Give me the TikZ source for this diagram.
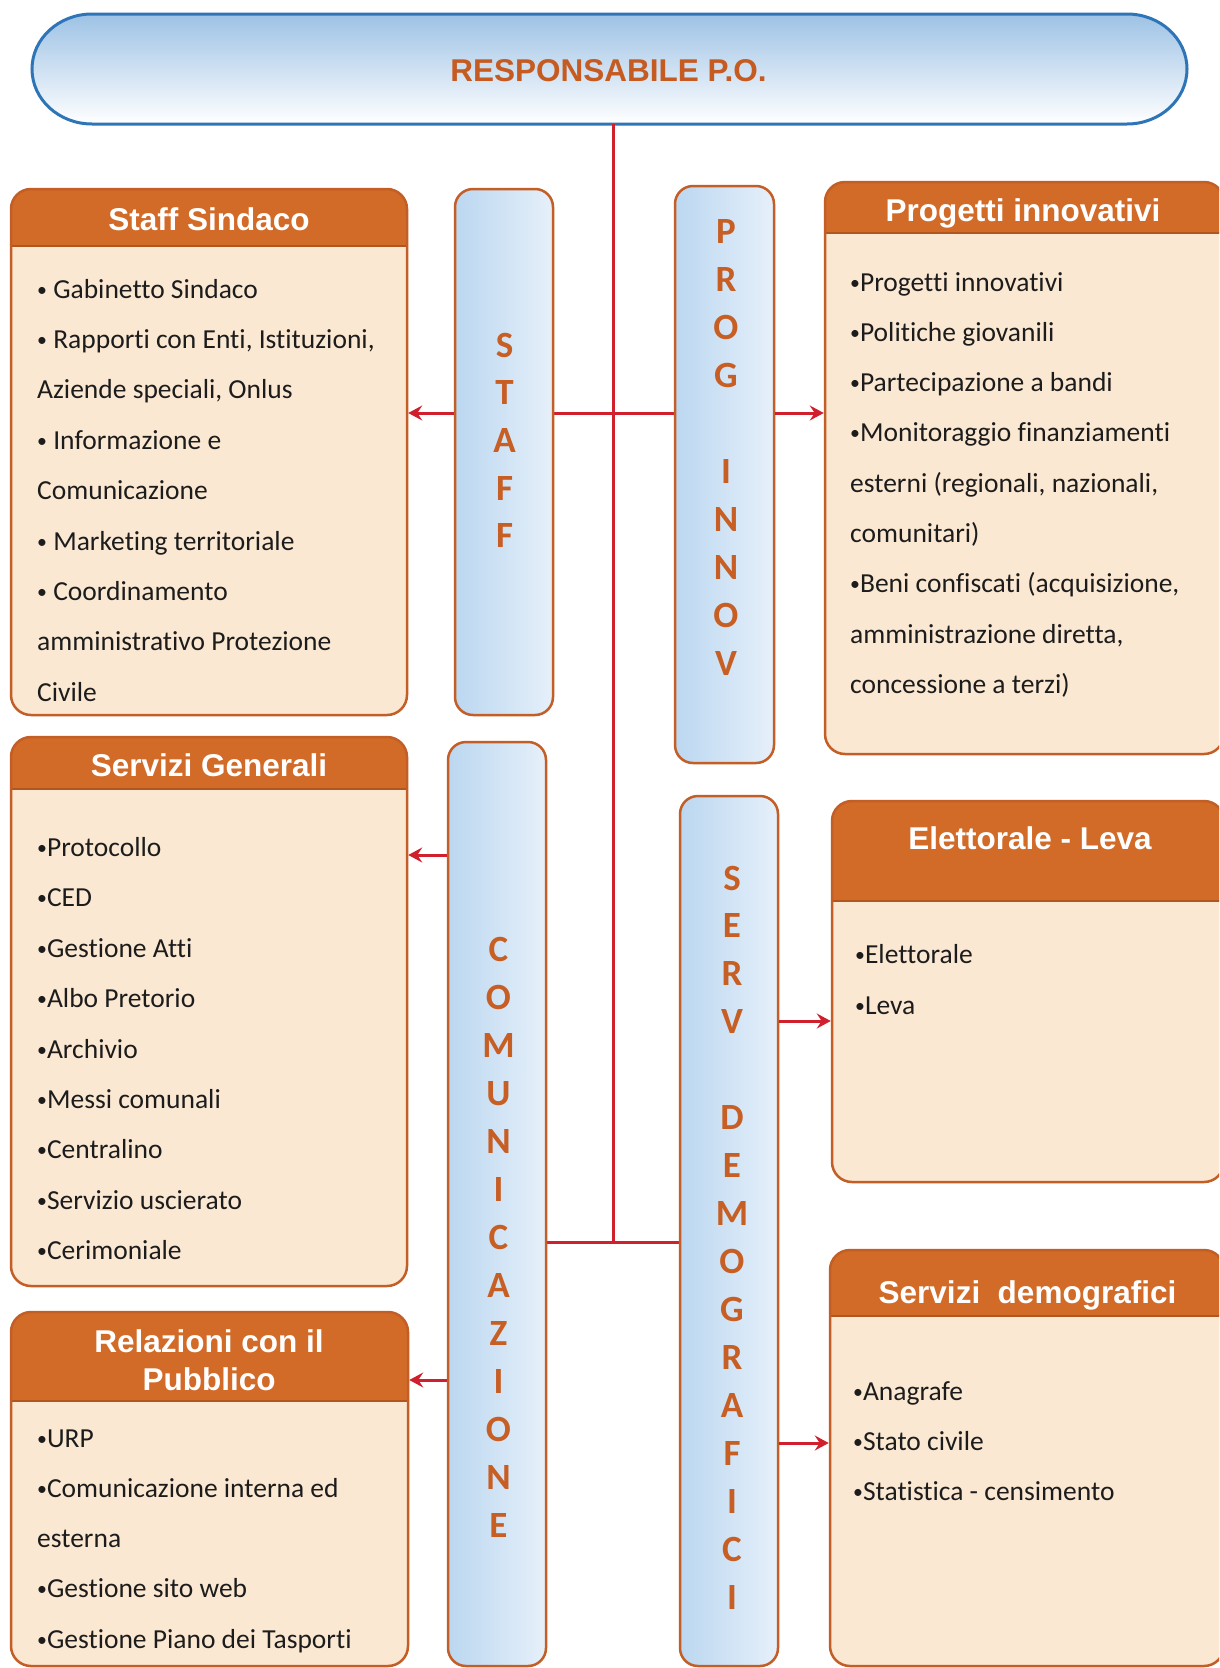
\documentclass[tikz,border=0pt]{standalone}
\usepackage{fontspec}
\usetikzlibrary{arrows.meta,fit}
\newfontfamily\calfont[Ligatures={NoCommon,NoContextual}]{Carlito}
\newfontfamily\arfont{Liberation Sans}
\definecolor{hdr}{HTML}{D26B28}
\definecolor{bodyc}{HTML}{FBE8D2}
\definecolor{frame}{HTML}{C25E26}
\definecolor{sepc}{HTML}{B2561F}
\definecolor{redl}{HTML}{D0202E}
\definecolor{lett}{HTML}{C75E23}
\definecolor{barL}{HTML}{BBD7F0}
\definecolor{barR}{HTML}{E6F0FA}
\definecolor{ellT}{HTML}{9DC2E5}
\definecolor{ellLine}{HTML}{2E75B8}
\definecolor{txt}{HTML}{1C1C1C}
\definecolor{respT}{HTML}{C65B22}

\newcommand\bul{\raisebox{0.07em}{\scalebox{0.72}{•}}}

% name, x1, y1, x2, y2, yheader
\newcommand\orgbox[6]{%
  \begin{scope}
    \clip[rounded corners=20pt] (#2,#3) rectangle (#4,#5);
    \fill[bodyc] (#2,#3) rectangle (#4,#5);
    \fill[hdr] (#2,#3) rectangle (#4,#6);
  \end{scope}
  \draw[sepc,line width=2.5pt] (#2,#6) -- (#4,#6);
  \node[boxframe,fit={(#2,#3) (#4,#5)}] (#1) {};
}
% prefix, x, first baseline, step, list
\newcommand\itemlist[5]{%
  \foreach \t [count=\k] in {#5} {
    \node[item] (#1\k) at (#2,{#3+#4*(\k-1)}) {\t};
  }
}
% prefix, x, first baseline, step, index/letter list
\newcommand\barletters[5]{%
  \foreach \i/\c in {#5} {
    \node[barletter] (#1\i) at (#2,{#3+#4*\i}) {\c};
  }
}

\begin{document}
\begin{tikzpicture}[x=1pt,y=-1pt,
  boxframe/.style={draw=frame,line width=2.5pt,rounded corners=20pt,inner sep=0pt},
  barbox/.style={draw=frame,line width=2.5pt,rounded corners=18pt,inner sep=0pt,left color=barL,right color=barR},
  item/.style={font=\calfont\fontsize{27.5}{30}\selectfont,text=txt,anchor=base west,inner sep=0pt},
  htitle/.style={font=\arfont\bfseries\fontsize{31.5}{36}\selectfont,text=white,anchor=base,inner sep=0pt},
  barletter/.style={font=\calfont\bfseries\fontsize{37}{40}\selectfont,text=lett,anchor=base,inner sep=0pt},
  link/.style={draw=redl,line width=3pt},
  arr/.style={draw=redl,line width=3pt,-{Stealth[length=14pt,width=15pt,inset=5pt]}}
]
\useasboundingbox (0,0) rectangle (1219,1668);
\fill[white] (0,0) rectangle (1219,1668);
\clip (0,0) rectangle (1219,1668);

% top element
\path[top color=ellT,bottom color=white,draw=ellLine,line width=3pt]
  (92,14) arc[start angle=270,end angle=90,x radius=60,y radius=55]
  -- (1127,124) arc[start angle=90,end angle=-90,x radius=60,y radius=55] -- cycle;
\node[font=\arfont\bfseries\fontsize{31.5}{36}\selectfont,text=respT,anchor=base,inner sep=0pt] (resp) at (608.5,81) {RESPONSABILE P.O.};
\coordinate (respbot) at (613,124);
\coordinate (h1) at (613,413);
\coordinate (h2) at (613,1242);
\coordinate (y3) at (0,855);
\coordinate (y4) at (0,1380);
\coordinate (y5) at (0,1021);
\coordinate (y6) at (0,1443);

% connecting lines (under the bars)
\draw[link] (respbot) -- (h2);
\draw[link] (455,413) -- (675,413);
\draw[link] (546,1242) -- (680,1242);

% vertical bars
\node[barbox,fit={(455,189) (553,715)}] (staffbar) {};
\node[barbox,fit={(675,186) (774,763)}] (progbar) {};
\node[barbox,fit={(448,742) (546,1666)}] (comunbar) {};
\node[barbox,fit={(680,796) (778,1666)}] (servbar) {};

\barletters{st}{504.5}{357}{47.7}{0/S,1/T,2/A,3/F,4/F}
\barletters{pg}{726}{243}{48.08}{0/P,1/R,2/O,3/G,5/I,6/N,7/N,8/O,9/V}
\barletters{cm}{498.5}{961.5}{48.0}{0/C,1/O,2/M,3/U,4/N,5/I,6/C,7/A,8/Z,9/I,10/O,11/N,12/E}
\barletters{sv}{732}{890}{47.97}{0/S,1/E,2/R,3/V,5/D,6/E,7/M,8/O,9/G,10/R,11/A,12/F,13/I,14/C,15/I}

% boxes
\orgbox{ss}{11}{189}{407}{715}{246}
\node[htitle] (sst) at (209,230) {Staff Sindaco};
\itemlist{ssi}{37}{298}{50.4}{{\bul\ Gabinetto Sindaco},{\bul\ Rapporti con Enti, Istituzioni,},{Aziende speciali, Onlus},{\bul\ Informazione e},{Comunicazione},{\bul\ Marketing territoriale},{\bul\ Coordinamento},{amministrativo Protezione},{Civile}}

\orgbox{sg}{11}{737}{407}{1286}{789}
\node[htitle] (sgt) at (209,776) {Servizi Generali};
\itemlist{sgi}{37}{856.5}{50.4}{{\bul Protocollo},{\bul CED},{\bul Gestione Atti},{\bul Albo Pretorio},{\bul Archivio},{\bul Messi comunali},{\bul Centralino},{\bul Servizio uscierato},{\bul Cerimoniale}}

\orgbox{rel}{11}{1312}{408}{1666}{1401}
\node[htitle] (relt1) at (209,1352) {Relazioni con il};
\node[htitle] (relt2) at (209,1390) {Pubblico};
\itemlist{reli}{37}{1447}{50.3}{{\bul URP},{\bul Comunicazione interna ed},{esterna},{\bul Gestione sito web},{\bul Gestione Piano dei Tasporti}}

\orgbox{pi}{825}{182}{1224}{754}{233}
\node[htitle] (pit) at (1023,221) {Progetti innovativi};
\itemlist{pii}{850}{291}{50.3}{{\bul Progetti innovativi},{\bul Politiche giovanili},{\bul Partecipazione a bandi},{\bul Monitoraggio finanziamenti},{esterni (regionali, nazionali,},{comunitari)},{\bul Beni confiscati (acquisizione,},{amministrazione diretta,},{concessione a terzi)}}

\orgbox{el}{832}{801}{1224}{1182}{901}
\node[htitle] (elt) at (1030,849) {Elettorale - Leva};
\itemlist{eli}{855}{963}{51}{{\bul Elettorale},{\bul Leva}}

\orgbox{sd}{830}{1250}{1224}{1666}{1316}
\node[htitle] (sdt) at (1027.5,1303) {Servizi\ \ demografici};
\itemlist{sdi}{853}{1400}{50.4}{{\bul Anagrafe},{\bul Stato civile},{\bul Statistica - censimento}}

% arrows
\draw[arr] (staffbar.west |- h1) -- (ss.east |- h1);
\draw[arr] (progbar.east |- h1) -- (pi.west |- h1);
\draw[arr] (comunbar.west |- y3) -- (sg.east |- y3);
\draw[arr] (comunbar.west |- y4) -- (rel.east |- y4);
\draw[arr] (servbar.east |- y5) -- (el.west |- y5);
\draw[arr] (servbar.east |- y6) -- (sd.west |- y6);
\end{tikzpicture}
\end{document}
